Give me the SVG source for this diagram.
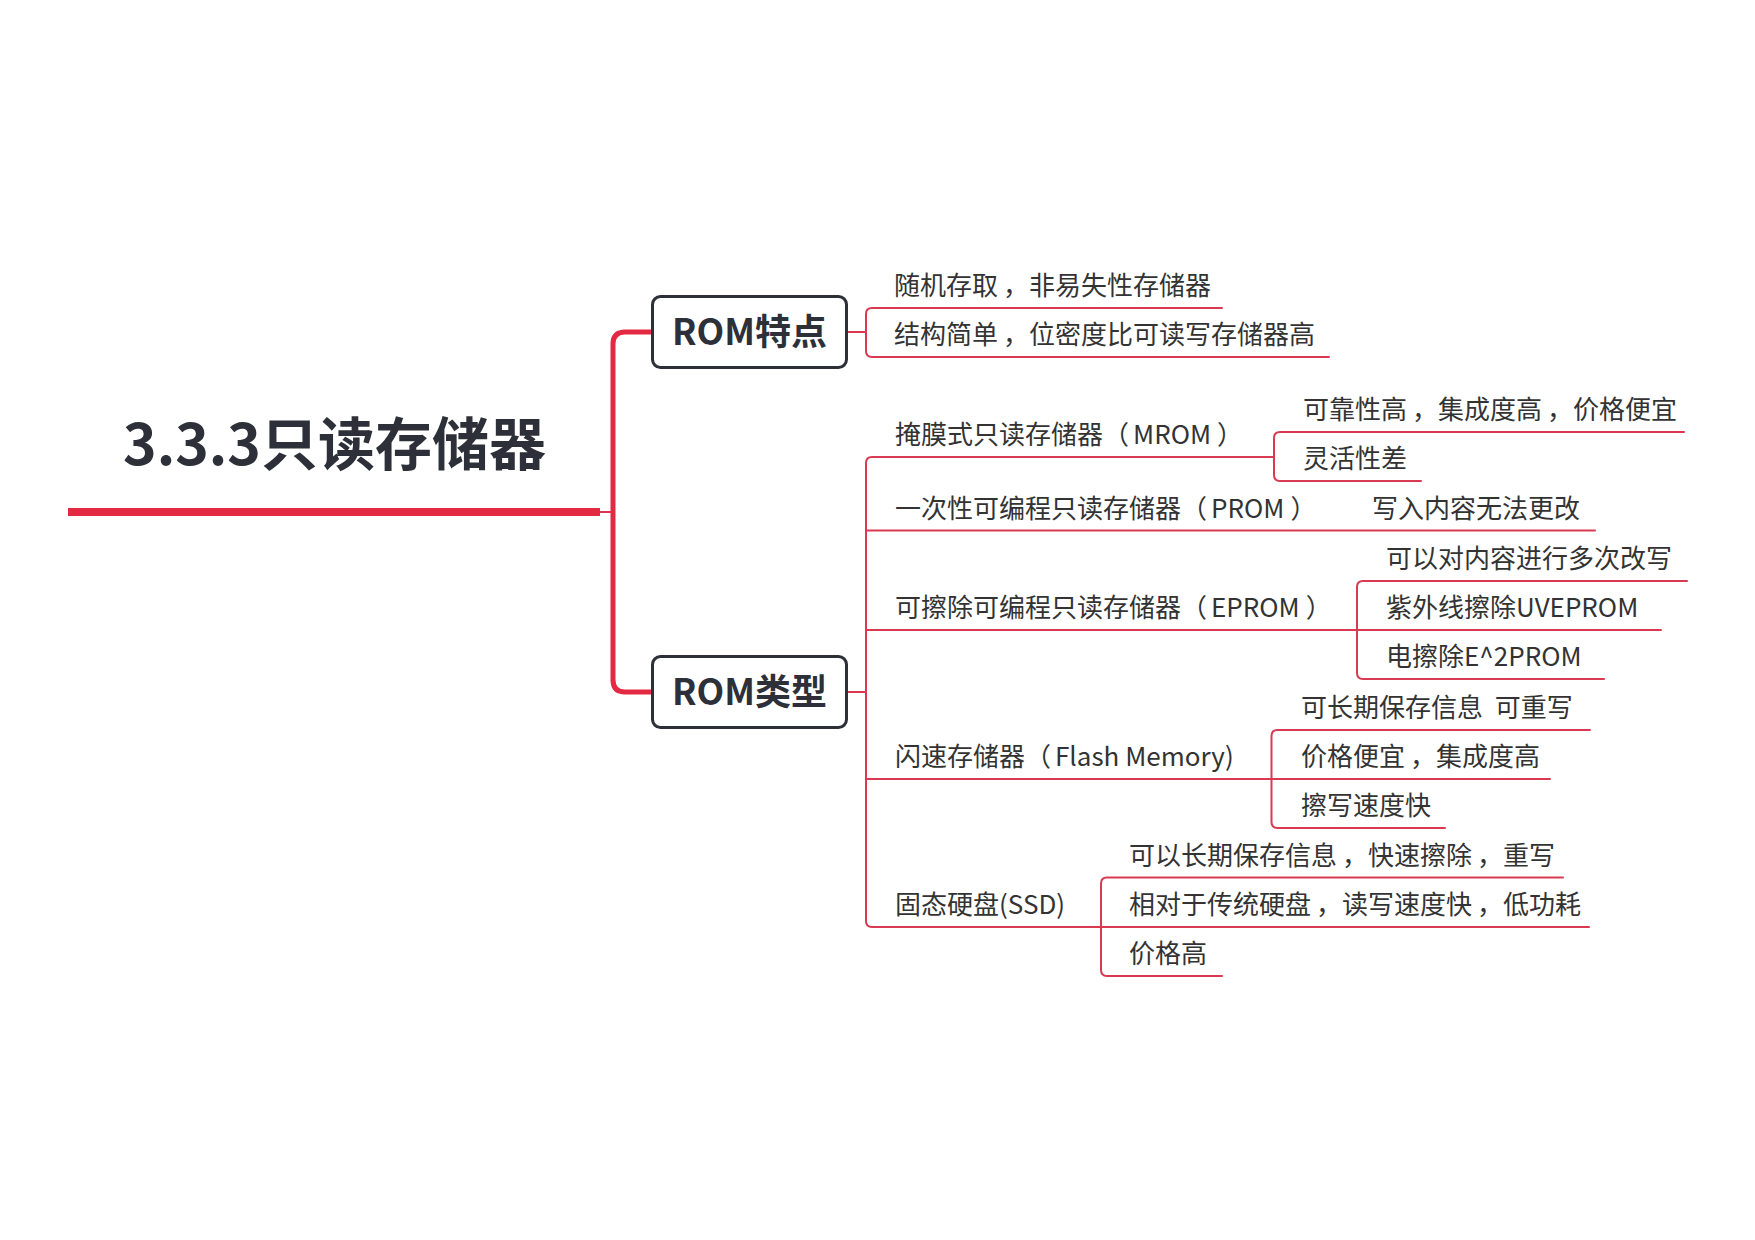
<svg xmlns="http://www.w3.org/2000/svg" width="1755" height="1240" viewBox="0 0 1755 1240">
<style>
.t{font-family:"Noto Sans CJK SC","Noto Sans",sans-serif;font-size:26px;fill:#333;white-space:pre}
.title{font-family:"Noto Sans CJK SC","Noto Sans",sans-serif;font-size:57px;font-weight:bold;fill:#2e3039}
.bt{font-family:"Noto Sans CJK SC","Noto Sans",sans-serif;font-size:36px;font-weight:bold;fill:#2e3039;text-anchor:middle}
.box{fill:#fff;stroke:#2e3039;stroke-width:3}
.c{fill:none;stroke:#d93a52;stroke-width:2;stroke-linecap:round}
.thick{fill:none;stroke:#e42a43;stroke-width:5}
</style>
<rect width="1755" height="1240" fill="#fff"/>
<g id="connectors">
<line x1="68" y1="512" x2="600" y2="512" stroke="#e42a43" stroke-width="8"/>
<line x1="600" y1="512" x2="613" y2="512" class="c"/>
<path class="thick" d="M613,512 V344 Q613,332 625,332 H652"/>
<path class="thick" d="M613,512 V680 Q613,692 625,692 H652"/>
<path class="c" d="M847,332 H866"/>
<path class="c" d="M866,332 V314 Q866,308 872,308 H1222"/>
<path class="c" d="M866,332 V351 Q866,357 872,357 H1329"/>
<path class="c" d="M847,692 H866"/>
<path class="c" d="M866,692 V463 Q866,457 872,457 H1274"/>
<path class="c" d="M866,692 V921 Q866,927 872,927 H1101"/>
<path class="c" d="M866,530.5 H1595"/>
<path class="c" d="M866,630 H1357"/>
<path class="c" d="M866,779 H1271.5"/>
<path class="c" d="M1274,457 V438 Q1274,432 1280,432 H1684"/>
<path class="c" d="M1274,457 V475 Q1274,481 1280,481 H1421"/>
<path class="c" d="M1357,630 V587 Q1357,581 1363,581 H1687"/>
<path class="c" d="M1357,630 H1661"/>
<path class="c" d="M1357,630 V673 Q1357,679 1363,679 H1604"/>
<path class="c" d="M1271.5,779 V736 Q1271.5,730 1277.5,730 H1590"/>
<path class="c" d="M1271.5,779 H1550"/>
<path class="c" d="M1271.5,779 V822 Q1271.5,828 1277.5,828 H1445"/>
<path class="c" d="M1101,927 V883.5 Q1101,877.5 1107,877.5 H1563"/>
<path class="c" d="M1101,927 H1589"/>
<path class="c" d="M1101,927 V970 Q1101,976 1107,976 H1222"/>
</g>
<g id="root"><text class="title" x="123" y="465">3.3.3只读存储器</text></g>
<g id="rom-features">
<rect class="box" x="652.5" y="296.5" width="194" height="71" rx="8"/>
<text class="bt" x="749.5" y="345">ROM特点</text>
</g>
<g id="rom-types">
<rect class="box" x="652.5" y="656.5" width="194" height="71" rx="8"/>
<text class="bt" x="749.5" y="705">ROM类型</text>
</g>
<g id="f1"><text class="t" x="894" y="295">随机存取<tspan dx="5">，</tspan>非易失性存储器</text></g>
<g id="f2"><text class="t" x="894" y="344">结构简单<tspan dx="5">，</tspan>位密度比可读写存储器高</text></g>
<g id="mrom"><text class="t" x="895" y="444">掩膜式只读存储器（<tspan dx="4">MROM</tspan><tspan dx="6">）</tspan></text></g>
<g id="mrom1"><text class="t" x="1303" y="419">可靠性高<tspan dx="5">，</tspan>集成度高<tspan dx="5">，</tspan>价格便宜</text></g>
<g id="mrom2"><text class="t" x="1303" y="468">灵活性差</text></g>
<g id="prom"><text class="t" x="895" y="518">一次性可编程只读存储器（<tspan dx="4">PROM</tspan><tspan dx="6">）</tspan></text></g>
<g id="prom1"><text class="t" x="1372" y="518">写入内容无法更改</text></g>
<g id="eprom"><text class="t" x="895" y="617">可擦除可编程只读存储器（<tspan dx="4">EPROM</tspan><tspan dx="6">）</tspan></text></g>
<g id="eprom1"><text class="t" x="1386" y="568">可以对内容进行多次改写</text></g>
<g id="eprom2"><text class="t" x="1386" y="617">紫外线擦除UVEPROM</text></g>
<g id="eprom3"><text class="t" x="1386" y="666">电擦除E^2PROM</text></g>
<g id="flash"><text class="t" x="895" y="766">闪速存储器（<tspan dx="4">Flash Memory)</tspan></text></g>
<g id="flash1"><text class="t" x="1301" y="717">可长期保存信息  可重写</text></g>
<g id="flash2"><text class="t" x="1301" y="766">价格便宜<tspan dx="5">，</tspan>集成度高</text></g>
<g id="flash3"><text class="t" x="1301" y="815">擦写速度快</text></g>
<g id="ssd"><text class="t" x="895" y="914">固态硬盘(SSD)</text></g>
<g id="ssd1"><text class="t" x="1129" y="864.5">可以长期保存信息<tspan dx="5">，</tspan>快速擦除<tspan dx="5">，</tspan>重写</text></g>
<g id="ssd2"><text class="t" x="1129" y="914">相对于传统硬盘<tspan dx="5">，</tspan>读写速度快<tspan dx="5">，</tspan>低功耗</text></g>
<g id="ssd3"><text class="t" x="1129" y="963">价格高</text></g>
</svg>
